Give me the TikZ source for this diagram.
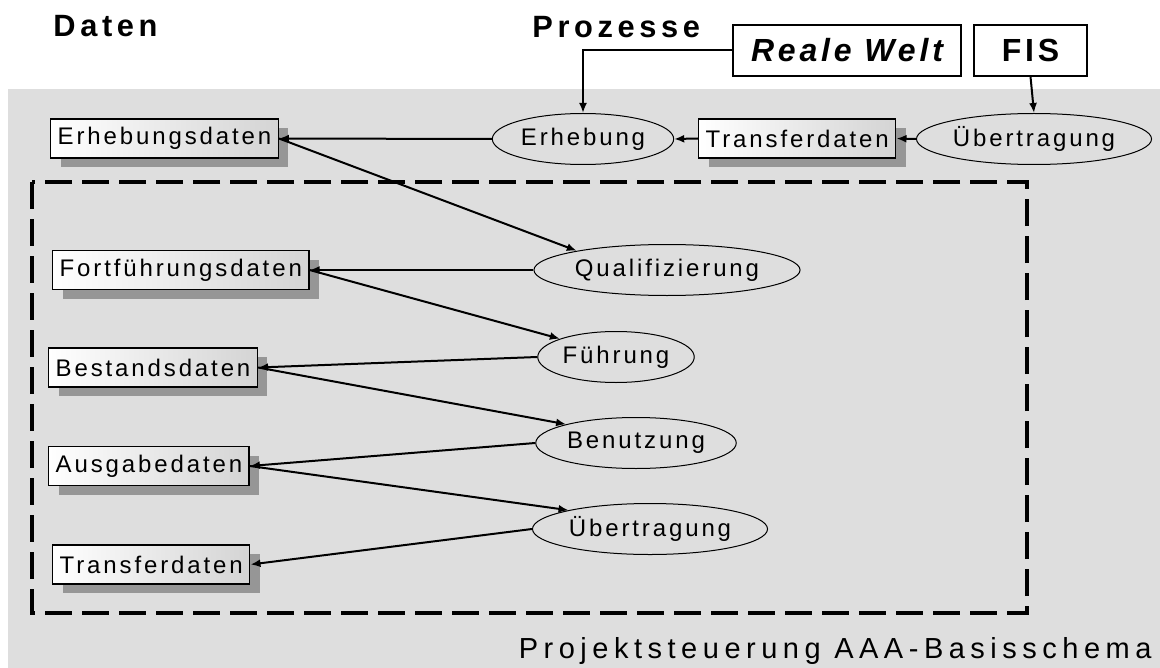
\documentclass[tikz,border=0pt]{standalone}
\usepackage{fontspec}
\setmainfont{Liberation Sans}
\newfontfamily\aaafont[LetterSpace=12]{Liberation Sans}
\newfontfamily\aaaheadfont[LetterSpace=15]{Liberation Sans}
\newfontfamily\aaafootfont[LetterSpace=19]{Liberation Sans}
\usepackage{tikz}
\usetikzlibrary{
arrows.meta,
shapes.geometric,
shadows
}
\definecolor{AAABack}{HTML}{DEDEDE}
\definecolor{AAAShadow}{HTML}{969696}
\definecolor{AAABoxRight}{HTML}{D4D4D4}
\tikzset{
aaabox/.style={draw=black, line width=0.7pt, left color=white, right color=AAABoxRight,
  drop shadow={shadow xshift=5pt, shadow yshift=-4.5pt, fill=AAAShadow, opacity=1},
  minimum height=19.5pt, inner xsep=3.5pt, inner ysep=0pt, anchor=west,
  font=\aaafont\fontsize{12pt}{14pt}\selectfont},
aaaproc/.style={ellipse, draw=black, line width=0.5pt, minimum height=25.5pt,
  inner xsep=1pt, inner ysep=0pt, font=\aaafont\fontsize{12pt}{14pt}\selectfont},
aaaworld/.style={draw=black, line width=0.7pt, fill=white, minimum height=25.5pt,
  inner sep=0pt, font=\aaafont\bfseries\fontsize{16pt}{18pt}\selectfont},
aaahead/.style={inner sep=0pt, font=\aaaheadfont\bfseries\fontsize{15.4pt}{18pt}\selectfont},
aaafoot/.style={inner sep=0pt, font=\aaafootfont\fontsize{14.5pt}{17pt}\selectfont},
aaaarrow/.style={-{Latex[length=5pt,width=4pt]}, line width=1pt, draw=black},
aaaframe/.style={draw=black, line width=2pt, dash pattern=on 13.5pt off 5pt}
}
\begin{document}
\begin{tikzpicture}[x=0.5pt,y=-0.5pt]
\useasboundingbox[fill=white] (0,0) rectangle (1160,668);
\fill[AAABack] (8,89) rectangle (1160,668);
\draw[aaaframe] (32,182) rectangle (1027,613);

\node[aaahead, anchor=base west] (daten) at (53,37) {Daten};
\node[aaahead, anchor=base west] (prozesse) at (532,38) {Prozesse};
\node[aaaworld, minimum width=114pt] (welt) at (847,50.5) {\itshape Reale Welt};
\node[aaaworld, minimum width=56.5pt] (fis) at (1030.5,50.5) {FIS};

\node[aaabox] (erhdaten) at (50,138.5) {Erhebungsdaten};
\node[aaabox] (transfer1) at (698,138.5) {Transferdaten};
\node[aaabox] (fortdaten) at (52,270) {Fortführungsdaten};
\node[aaabox] (bestdaten) at (48,367.5) {Bestandsdaten};
\node[aaabox] (ausgdaten) at (48,466) {Ausgabedaten};
\node[aaabox] (transfer2) at (52,564.5) {Transferdaten};

\node[aaaproc] (erhebung) at (583,139) {Erhebung};
\node[aaaproc] (uebertr1) at (1034,139) {Übertragung};
\node[aaaproc] (quali) at (667,270) {Qualifizierung};
\node[aaaproc] (fuehrung) at (616,357) {Führung};
\node[aaaproc] (benutzung) at (636,443) {Benutzung};
\node[aaaproc] (uebertr2) at (650,529) {Übertragung};

\node[aaafoot, anchor=base east] (steuerung) at (1152,658) {Projektsteuerung AAA-Basisschema};

\draw[aaaarrow] (welt.west) -| (erhebung.north);
\draw[aaaarrow] (fis.south) -- (uebertr1.north);
\draw[aaaarrow] (uebertr1.west) -- (transfer1.east);
\draw[aaaarrow] (transfer1.west) -- (erhebung.east);
\draw[aaaarrow] (erhebung.west) -- (erhdaten.east);
\draw[aaaarrow] (erhdaten.east) -- (quali.168);
\draw[aaaarrow] (quali.west) -- (fortdaten.east);
\draw[aaaarrow] (fortdaten.east) -- (fuehrung.162);
\draw[aaaarrow] (fuehrung.west) -- (bestdaten.east);
\draw[aaaarrow] (bestdaten.east) -- (benutzung.165);
\draw[aaaarrow] (benutzung.west) -- (ausgdaten.east);
\draw[aaaarrow] (ausgdaten.east) -- (uebertr2.167);
\draw[aaaarrow] (uebertr2.west) -- (transfer2.east);
\end{tikzpicture}
\end{document}
